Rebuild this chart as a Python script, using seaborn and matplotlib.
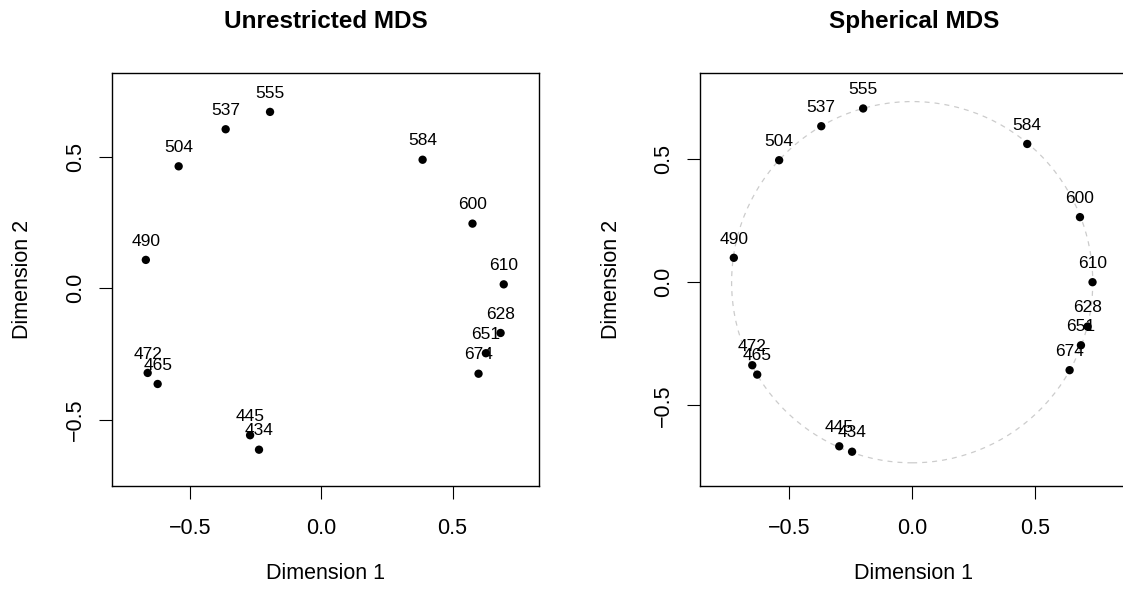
import numpy as np
import pandas as pd
import matplotlib.pyplot as plt
import seaborn as sns

# wavelength labels (nm) and the two MDS configurations
labels = ["434", "445", "465", "472", "490", "504", "537", "555",
          "584", "600", "610", "628", "651", "674"]

unres_d1 = [-0.237, -0.271, -0.623, -0.661, -0.668, -0.543, -0.364, -0.195,
            0.386, 0.576, 0.695, 0.683, 0.627, 0.599]
unres_d2 = [-0.614, -0.559, -0.364, -0.322, 0.108, 0.464, 0.605, 0.671,
            0.489, 0.246, 0.015, -0.170, -0.247, -0.325]

sph_d1 = [-0.244, -0.296, -0.629, -0.649, -0.724, -0.540, -0.369, -0.199,
          0.467, 0.681, 0.732, 0.712, 0.685, 0.639]
sph_d2 = [-0.688, -0.666, -0.375, -0.337, 0.099, 0.495, 0.633, 0.705,
          0.561, 0.264, 0.000, -0.180, -0.256, -0.357]

sphere_radius = 0.733
ticks = [-0.5, 0.0, 0.5]
tick_labels = ["\u22120.5", "0.0", "0.5"]

sns.set_style("white")
plt.rcParams['font.family'] = ['Liberation Sans', 'DejaVu Sans']
plt.rcParams['text.color'] = 'black'
plt.rcParams['axes.labelcolor'] = 'black'
plt.rcParams['xtick.color'] = 'black'
plt.rcParams['ytick.color'] = 'black'

fig = plt.figure(figsize=(11.23, 5.92), dpi=100)
ax1 = fig.add_axes([0.0997, 0.1791, 0.3802, 0.6976])
ax2 = fig.add_axes([0.6236, 0.1791, 0.3802, 0.6976])


def mds_panel(ax, d1, d2, title, xlim, ylim):
    df = pd.DataFrame({"d1": d1, "d2": d2, "lab": labels})
    sns.scatterplot(data=df, x="d1", y="d2", ax=ax, color="black",
                    s=36, edgecolor="none", zorder=3)
    for _, r in df.iterrows():
        ax.annotate(r["lab"], (r["d1"], r["d2"]), xytext=(0, 13.5),
                    textcoords="offset points", ha="center", va="center",
                    fontsize=12.5)
    ax.set_xlim(xlim)
    ax.set_ylim(ylim)
    ax.set_xticks(ticks)
    ax.set_yticks(ticks)
    ax.set_xticklabels(tick_labels)
    ax.set_yticklabels(tick_labels, rotation=90, va="center")
    ax.tick_params(axis="x", direction="out", length=9.4, width=0.8,
                   pad=13.5, labelsize=15.5, bottom=True)
    ax.tick_params(axis="y", direction="out", length=9.4, width=0.8,
                   pad=9.5, labelsize=15.5, left=True)
    for sp in ax.spines.values():
        sp.set_color("black")
        sp.set_linewidth(1.0)
    ax.set_xlabel("Dimension 1", fontsize=15.5)
    ax.set_ylabel("Dimension 2", fontsize=15.5)
    ax.xaxis.set_label_coords(0.5, -88 / 413)
    ax.xaxis.label.set_va("center")
    ax.yaxis.set_label_coords(-89 / 427, 0.5)
    ax.yaxis.label.set_va("center")
    ax.set_title(title, fontsize=17.5, fontweight="bold", y=1.108, pad=0)


mds_panel(ax1, unres_d1, unres_d2, "Unrestricted MDS",
          (-0.797, 0.829), (-0.752, 0.819))
mds_panel(ax2, sph_d1, sph_d2, "Spherical MDS",
          (-0.860, 0.873), (-0.827, 0.849))

# the sphere the spherical solution is restricted to
circ = plt.Circle((0, 0), sphere_radius, fill=False, color="#cccccc",
                  linestyle=(0, (4, 4)), linewidth=0.9, zorder=1)
ax2.add_patch(circ)

fig.savefig("out.png", dpi=100)
